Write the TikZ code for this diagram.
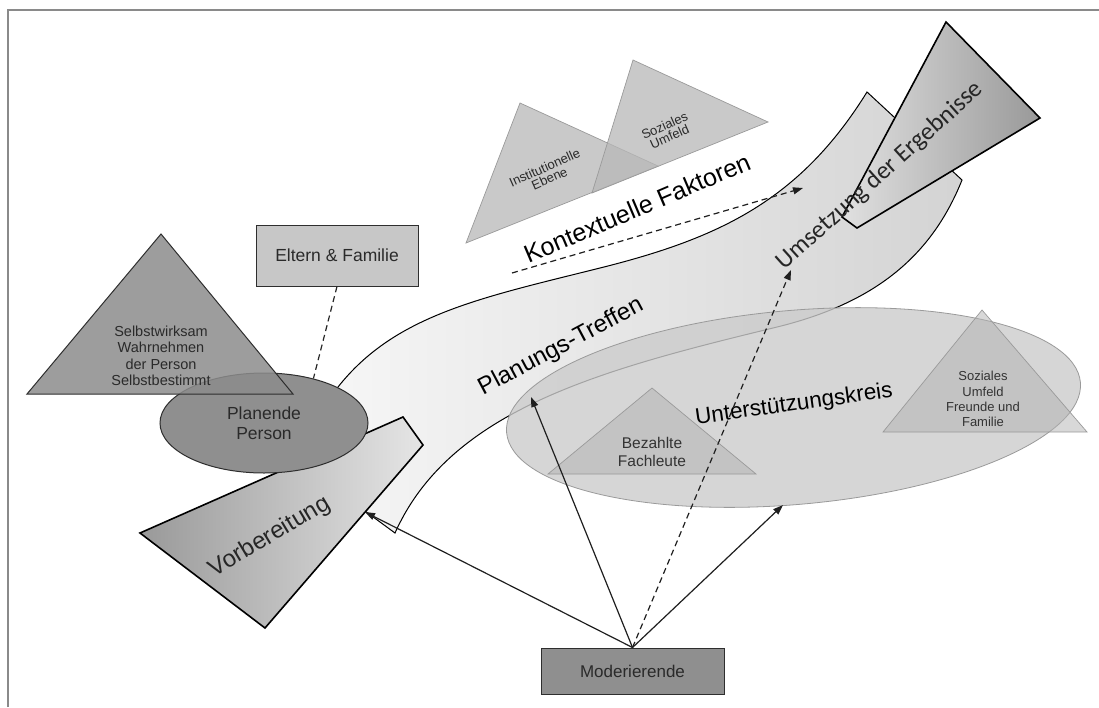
\documentclass[tikz,border=0pt]{standalone}
\usepackage{fontspec}
\setmainfont{Liberation Sans}
\newfontfamily\calib{Carlito}
\usetikzlibrary{shapes.geometric,arrows.meta}
\definecolor{dk}{HTML}{2E2E2E}
\definecolor{txt}{HTML}{2A2A2A}
\definecolor{framec}{HTML}{8A8A8A}
\definecolor{lineg}{HTML}{9A9A9A}
\begin{document}
\begin{tikzpicture}[x=1pt,y=-1pt,
  fs/.style={font=\fontsize{#1}{#1}\selectfont},
  lbl/.style={text=txt, align=center, inner sep=0pt},
  arr/.style={draw=black!88, line width=1.2pt, -{Triangle[length=10pt,width=7pt]}},
  dsh/.style={dash pattern=on 6pt off 4pt},
  ltri/.style={fill=black!28, fill opacity=0.75, draw=lineg, line width=0.7pt},
]
\useasboundingbox (0,0) rectangle (1099,707);
\fill[white] (0,0) rectangle (1099,707);
% frame
\draw[framec, line width=2pt] (8,707) -- (8,10) -- (1099,10);

% band (Planungs-Treffen)
\path[draw=black, line width=1pt, left color=black!3, right color=black!17]
  (338,387) .. controls (395,315) and (480,298) .. (600,268)
  .. controls (720,238) and (800,200) .. (867,92)
  -- (962,180)
  .. controls (930,260) and (870,305) .. (773,328)
  .. controls (600,370) and (450,410) .. (395,533)
  -- (350,500) -- (300,440) -- cycle;

% contextual triangles
\path[ltri] (520,103) -- (466,243) -- (658,166) -- cycle;
\path[ltri] (633,60) -- (592,193) -- (768,122) -- cycle;
\node[lbl, fs=13, rotate=24] (inst) at (547,173) {Institutionelle\\[-1pt]Ebene};
\node[lbl, fs=13, rotate=24] (sozu) at (667,131) {Soziales\\[-1pt]Umfeld};
\node[lbl, fs=25, text=black, rotate=23] (kontext) at (637,208) {Kontextuelle Faktoren};
\coordinate (kstart) at (512,273);
\coordinate (kend) at (803,188);
\draw[arr, dsh] (kstart) -- (kend);

% Unterstuetzungskreis
\node[ellipse, draw=lineg, line width=0.8pt, fill=black!20, fill opacity=0.8,
      minimum width=576pt, minimum height=194pt, inner sep=0pt, rotate=5] (kreis) at (793.5,407.5) {};
\path[fill=black!30, fill opacity=0.5, draw=lineg, line width=0.7pt] (652,388) -- (548,474) -- (756,474) -- cycle;
\path[fill=black!30, fill opacity=0.5, draw=lineg, line width=0.7pt] (982,310) -- (883,432) -- (1087,432) -- cycle;
\node[lbl, fs=15.5, text=black!80] (bezahlt) at (652,452) {Bezahlte\\[2pt]Fachleute};
\node[lbl, font=\fontsize{13}{15.3}\selectfont, text=black!80] (sozial) at (983,399) {Soziales\\Umfeld\\Freunde und\\Familie};
\node[lbl, fs=22.5, text=black, rotate=8] (ukreis) at (794,405) {Unterstützungskreis};

\node[lbl, fs=24, text=black, rotate=28] (planung) at (561,347) {Planungs-Treffen};

% Vorbereitung
\path[draw=black, line width=1.6pt, left color=black!40, right color=black!10]
  (140,533) -- (403,417) -- (423,445) -- (265,628) -- cycle;
\node[lbl, fs=24, text=black!85, rotate=31] (vorb) at (270,537) {Vorbereitung};

% Planende Person
\node[ellipse, draw=dk, line width=1pt, fill=black!44, minimum width=208pt, minimum height=100pt,
      inner sep=0pt, text=txt, align=center, fs=17.5] (planende) at (264,423) {Planende\\[2pt]Person};
% Selbst triangle
\path[fill=black!45, fill opacity=0.85, draw=dk, line width=1pt] (161,234) -- (27,394) -- (293,394) -- cycle;
\node[lbl, fs=14.5] (selbst) at (161,356) {Selbstwirksam\\[2pt]Wahrnehmen\\[2pt]der Person\\[2pt]Selbstbestimmt};

% Eltern
\node[draw=dk, line width=1pt, fill=black!22, minimum width=162pt, minimum height=61pt,
      text=txt, fs=17.5] (eltern) at (337,255.5) {Eltern \& Familie};
\draw[dsh, line width=1.2pt, black!85] (eltern.south) -- (planende.42);

% Umsetzung
\path[draw=black, line width=1.6pt, left color=black!12, right color=black!40]
  (946,22) -- (1040,118) -- (857,228) -- (842,217) -- cycle;
\node[lbl, text=black!85, rotate=42, font=\calib\fontsize{25}{25}\selectfont] (umsetz) at (880,176) {Umsetzung der Ergebnisse};

% Moderierende and arrows
\node[draw=dk, line width=1pt, fill=black!44, minimum width=183pt, minimum height=46pt,
      text=txt, fs=17] (mod) at (632.5,671) {Moderierende};
\coordinate (tipV) at (365,512);
\coordinate (tipE1) at (531,397);
\coordinate (tipU) at (791,270);
\coordinate (tipE2) at (783,505);
\draw[arr] (mod.north) -- (tipV);
\draw[arr] (mod.north) -- (tipE1);
\draw[arr, dsh] (mod.north) -- (tipU);
\draw[arr] (mod.north) -- (tipE2);
\end{tikzpicture}
\end{document}
